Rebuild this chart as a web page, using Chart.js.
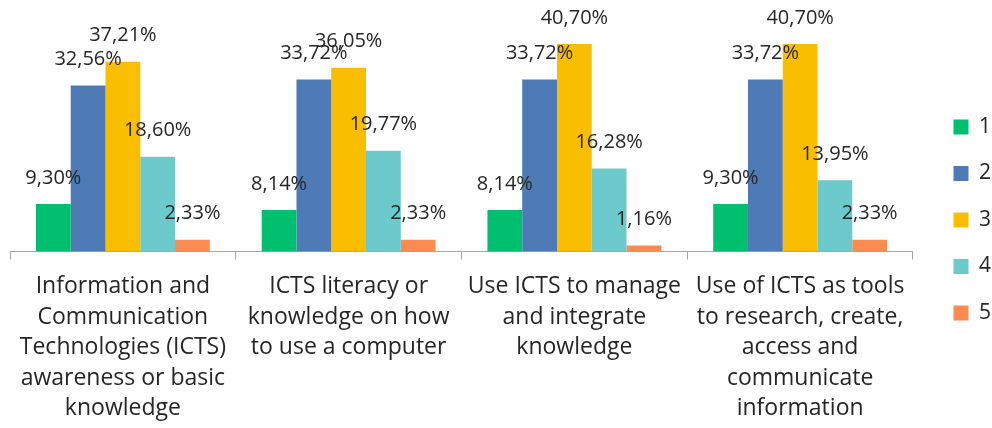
<!DOCTYPE html>
<html>
<head>
<meta charset="utf-8">
<script src="https://cdn.jsdelivr.net/npm/chart.js@4"></script>
<style>
    html, body { margin: 0; padding: 0; background: #fff; }
    #wrap { width: 992px; height: 428px; position: relative; }
</style>
</head>
<body>
<div id="wrap"><canvas id="chart"></canvas></div>
<script>
// Categories (each label split into lines)
const categories = [
    ['Information and', 'Communication', 'Technologies (ICTS)', 'awareness or basic', 'knowledge'],
    ['ICTS literacy or', 'knowledge on how', 'to use a computer'],
    ['Use ICTS to manage', 'and integrate', 'knowledge'],
    ['Use of ICTS as tools', 'to research, create,', 'access and', 'communicate', 'information']
];

// Percentages per rating
const series1 = [9.30, 8.14, 8.14, 9.30];
const series2 = [32.56, 33.72, 33.72, 33.72];
const series3 = [37.21, 36.05, 40.70, 40.70];
const series4 = [18.60, 19.77, 16.28, 13.95];
const series5 = [2.33, 2.33, 1.16, 2.33];

const seriesNames = ['1', '2', '3', '4', '5'];
const seriesColors = ['#00BF6F', '#4E7BB6', '#F9BE00', '#6CC9CC', '#FC8B52'];

const FONT = '"Open Sans", "Noto Sans", sans-serif';
const TEXT = '#262626';

// Value labels above each bar, comma as decimal separator
const valueLabels = {
    id: 'valueLabels',
    afterDatasetsDraw(chart) {
        const ctx = chart.ctx;
        ctx.save();
        ctx.font = '20px ' + FONT;
        ctx.fillStyle = TEXT;
        ctx.textAlign = 'center';
        ctx.textBaseline = 'middle';
        chart.data.datasets.forEach((ds, i) => {
            chart.getDatasetMeta(i).data.forEach((bar, j) => {
                const txt = ds.data[j].toFixed(2).replace('.', ',') + '%';
                ctx.fillText(txt, bar.x, bar.y - 26);
            });
        });
        ctx.restore();
    }
};

// Nudge the legend towards the right edge and up a little
const legendShift = {
    id: 'legendShift',
    afterLayout(chart) {
        chart.legend.left += 15;
        chart.legend.right += 15;
        chart.legend.top -= 9;
        chart.legend.bottom -= 9;
    }
};

const allSeries = [series1, series2, series3, series4, series5];

new Chart(document.getElementById('chart'), {
    type: 'bar',
    data: {
        labels: categories,
        datasets: allSeries.map((data, i) => ({
            label: seriesNames[i],
            data: data,
            backgroundColor: seriesColors[i],
            borderWidth: 0,
            categoryPercentage: 0.77,
            barPercentage: 1
        }))
    },
    options: {
        responsive: true,
        maintainAspectRatio: false,
        animation: false,
        layout: {
            padding: { top: 22, left: 10, right: 6, bottom: -8 }
        },
        plugins: {
            tooltip: { enabled: false },
            legend: {
                position: 'right',
                labels: {
                    boxWidth: 15,
                    boxHeight: 15,
                    padding: 25.5,
                    color: TEXT,
                    font: { family: FONT, size: 21 }
                }
            }
        },
        scales: {
            y: {
                display: false,
                min: 0,
                max: 45
            },
            x: {
                grid: {
                    offset: true,
                    drawOnChartArea: false,
                    drawTicks: true,
                    tickLength: 8,
                    color: '#A6A6A6'
                },
                border: { color: '#A6A6A6', width: 1 },
                ticks: {
                    color: TEXT,
                    padding: 12,
                    maxRotation: 0,
                    autoSkip: false,
                    font: { family: FONT, size: 23, lineHeight: 1.326 }
                }
            }
        }
    },
    plugins: [valueLabels, legendShift]
});
</script>
</body>
</html>
